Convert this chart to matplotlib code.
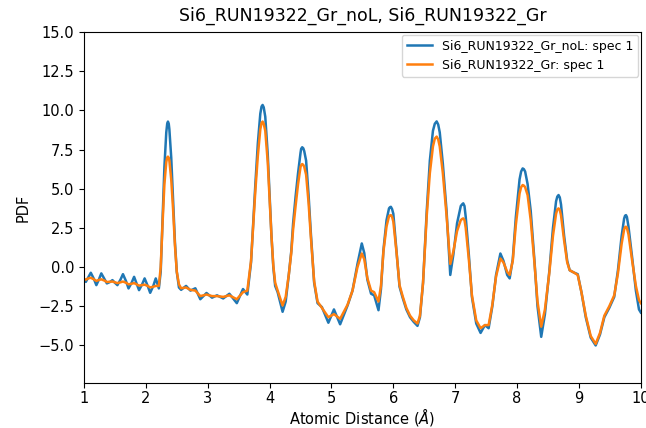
# PDF comparison plot for Si6 RUN19322 (with and without Lorch)

import numpy as np
import matplotlib
matplotlib.use("Agg")
import matplotlib.pyplot as plt

# r values (Angstrom) for the low-r oscillation part
r_low = [1.00, 1.03, 1.07, 1.11, 1.16, 1.20, 1.24, 1.28, 1.33, 1.37, 1.42, 1.46,
         1.50, 1.54, 1.59, 1.63, 1.68, 1.72, 1.77, 1.81, 1.85, 1.89, 1.94, 1.98,
         2.03, 2.07, 2.12, 2.16]
noL_low = [-0.85, -0.94, -0.65, -0.36, -0.75, -1.15, -0.80, -0.40, -0.75, -1.04, -0.95, -0.83,
           -1.00, -1.15, -0.80, -0.45, -0.90, -1.36, -1.00, -0.62, -1.05, -1.47, -1.10, -0.72,
           -1.20, -1.64, -1.20, -0.72]
gr_low = [-0.75, -0.80, -0.72, -0.68, -0.78, -0.88, -0.82, -0.78, -0.86, -0.95, -0.93, -0.92,
          -0.97, -1.02, -0.97, -0.92, -1.00, -1.10, -1.06, -1.02, -1.10, -1.18, -1.15, -1.12,
          -1.20, -1.30, -1.25, -1.20]

# r values for the peak region
r_high = [2.21, 2.24, 2.27, 2.30, 2.33, 2.357, 2.38, 2.41, 2.44, 2.47, 2.50, 2.535,
          2.57, 2.65, 2.72, 2.80, 2.88, 2.98, 3.07, 3.15, 3.25, 3.35, 3.47, 3.57, 3.64,
          3.70, 3.735, 3.77, 3.81, 3.85, 3.887, 3.93, 3.97, 4.00, 4.03, 4.06, 4.09, 4.13,
          4.21, 4.26, 4.31, 4.35, 4.38, 4.42, 4.46, 4.50, 4.527, 4.56, 4.59, 4.63, 4.667,
          4.72, 4.775, 4.845, 4.95, 5.04, 5.14, 5.26, 5.34, 5.42, 5.49, 5.53, 5.58, 5.64,
          5.69, 5.76, 5.80, 5.84, 5.89, 5.93, 5.96, 6.00, 6.05, 6.10, 6.15, 6.21, 6.27,
          6.33, 6.39, 6.43, 6.48, 6.54, 6.59, 6.64, 6.70, 6.75, 6.80, 6.86, 6.92, 6.97,
          7.03, 7.09, 7.13, 7.17, 7.22, 7.27, 7.34, 7.41, 7.48, 7.54, 7.60, 7.66, 7.73,
          7.78, 7.84, 7.88, 7.93, 7.98, 8.04, 8.09, 8.13, 8.17, 8.22, 8.28, 8.33, 8.39,
          8.45, 8.52, 8.58, 8.63, 8.67, 8.71, 8.76, 8.81, 8.85, 8.92, 8.98, 9.04, 9.11,
          9.19, 9.27, 9.34, 9.41, 9.49, 9.57, 9.63, 9.69, 9.73, 9.76, 9.80, 9.86, 9.92,
          9.97, 10.00]
noL_high = [-1.36, -0.30, 3.00, 6.40, 8.60, 9.29, 8.80, 7.00, 4.30, 1.60, -0.30, -1.30,
            -1.45, -1.20, -1.50, -1.35, -2.05, -1.65, -1.95, -1.80, -2.00, -1.70, -2.30, -1.40, -1.75,
            0.30, 2.80, 5.30, 7.90, 9.80, 10.35, 9.60, 7.20, 4.60, 2.00, 0.00, -1.20, -1.60,
            -2.85, -2.20, -0.50, 1.00, 2.80, 4.50, 6.00, 7.30, 7.65, 7.40, 6.80, 4.60, 2.15,
            -1.00, -2.30, -2.55, -3.55, -2.70, -3.65, -2.45, -1.50, 0.20, 1.51, 0.90, -0.80, -1.70,
            -1.80, -2.75, -1.40, 1.10, 3.00, 3.75, 3.85, 3.40, 1.10, -1.25, -1.95, -2.70, -3.20,
            -3.50, -3.75, -3.20, -1.00, 3.60, 6.80, 8.70, 9.30, 8.60, 6.60, 3.60, -0.50, 0.80,
            2.80, 3.90, 4.07, 3.20, 0.80, -1.90, -3.60, -4.20, -3.70, -3.90, -2.50, -0.50, 0.87,
            0.40, -0.50, -0.72, 0.50, 3.20, 5.60, 6.30, 6.10, 5.30, 3.60, 0.45, -2.50, -4.45,
            -3.00, -0.30, 2.50, 4.20, 4.60, 4.00, 2.00, 0.40, -0.20, -0.35, -0.45, -1.60, -3.20,
            -4.50, -5.00, -4.30, -3.20, -2.60, -1.90, -0.20, 2.00, 3.10, 3.32, 2.60, 0.60, -1.50,
            -2.70, -2.90]
gr_high = [-1.20, 0.00, 2.80, 5.30, 6.70, 7.05, 6.80, 5.60, 3.70, 1.40, -0.30, -1.10,
           -1.35, -1.30, -1.45, -1.50, -1.85, -1.75, -1.85, -1.85, -1.90, -1.80, -2.05, -1.60, -1.50,
           0.40, 2.60, 4.90, 7.10, 8.80, 9.29, 8.70, 6.70, 4.40, 2.00, 0.10, -1.00, -1.50,
           -2.45, -1.90, -0.50, 0.90, 2.40, 3.90, 5.30, 6.40, 6.58, 6.40, 5.90, 4.10, 1.90,
           -0.90, -2.20, -2.60, -3.20, -3.00, -3.30, -2.40, -1.50, 0.00, 0.87, 0.50, -0.70, -1.50,
           -1.60, -2.20, -1.20, 1.00, 2.60, 3.25, 3.32, 2.90, 1.00, -1.15, -1.85, -2.60, -3.10,
           -3.40, -3.60, -3.10, -1.00, 3.30, 6.00, 7.70, 8.33, 7.70, 6.00, 3.30, 0.20, 1.00,
           2.30, 3.00, 3.11, 2.50, 0.50, -1.80, -3.40, -3.90, -3.70, -3.70, -2.40, -0.60, 0.55,
           0.30, -0.30, -0.50, 0.40, 2.70, 4.70, 5.24, 5.10, 4.60, 3.00, 0.30, -2.20, -3.80,
           -2.70, -0.40, 2.00, 3.40, 3.75, 3.30, 1.70, 0.30, -0.20, -0.35, -0.50, -1.60, -3.10,
           -4.40, -4.90, -4.20, -3.10, -2.50, -1.80, -0.40, 1.50, 2.40, 2.58, 2.10, 0.40, -1.20,
           -2.10, -2.30]

# extra readings near the peak tops
r_apex = [2.345, 2.37, 3.87, 3.905, 4.51, 4.545, 5.945, 5.98, 6.67, 6.725,
          7.115, 7.15, 8.065, 8.11, 8.65, 8.69, 9.745, 9.775]
noL_apex = [9.15, 9.15, 10.25, 10.20, 7.55, 7.58, 3.82, 3.70, 9.15, 9.10,
            4.02, 3.90, 6.10, 6.25, 4.50, 4.45, 3.28, 3.20]
gr_apex = [7.00, 6.98, 9.20, 9.15, 6.50, 6.52, 3.30, 3.20, 8.20, 8.15,
           3.08, 3.00, 5.10, 5.20, 3.68, 3.65, 2.55, 2.50]

r = np.array(r_low + r_high + r_apex)
pdf_noL = np.array(noL_low + noL_high + noL_apex)
pdf_gr = np.array(gr_low + gr_high + gr_apex)
order = np.argsort(r)
r, pdf_noL, pdf_gr = r[order], pdf_noL[order], pdf_gr[order]

fig = plt.figure(figsize=(6.46, 4.28), dpi=100)
ax = fig.add_axes([0.130, 0.105, 0.862, 0.820])

ax.plot(r, pdf_noL, color='#1f77b4', lw=1.8, label='Si6_RUN19322_Gr_noL: spec 1',
        solid_joinstyle='round')
ax.plot(r, pdf_gr, color='#ff7f0e', lw=1.8, label='Si6_RUN19322_Gr: spec 1',
        solid_joinstyle='round')

ax.set_xlim(1, 10)
ax.set_ylim(-7.4, 15)
ax.set_xticks(range(1, 11))
ax.set_yticks([-5.0, -2.5, 0.0, 2.5, 5.0, 7.5, 10.0, 12.5, 15.0])
ax.tick_params(labelsize=10.5)
ax.tick_params(axis='x', pad=2.5)
ax.set_xlabel(r'Atomic Distance ($\AA$)', fontsize=10.5, labelpad=0)
ax.set_ylabel('PDF', fontsize=10.5, labelpad=6)
ax.set_title('Si6_RUN19322_Gr_noL, Si6_RUN19322_Gr', fontsize=12.5, pad=8)
ax.legend(loc='upper right', fontsize=9, borderaxespad=0.2)

fig.savefig('out.png', dpi=100)
